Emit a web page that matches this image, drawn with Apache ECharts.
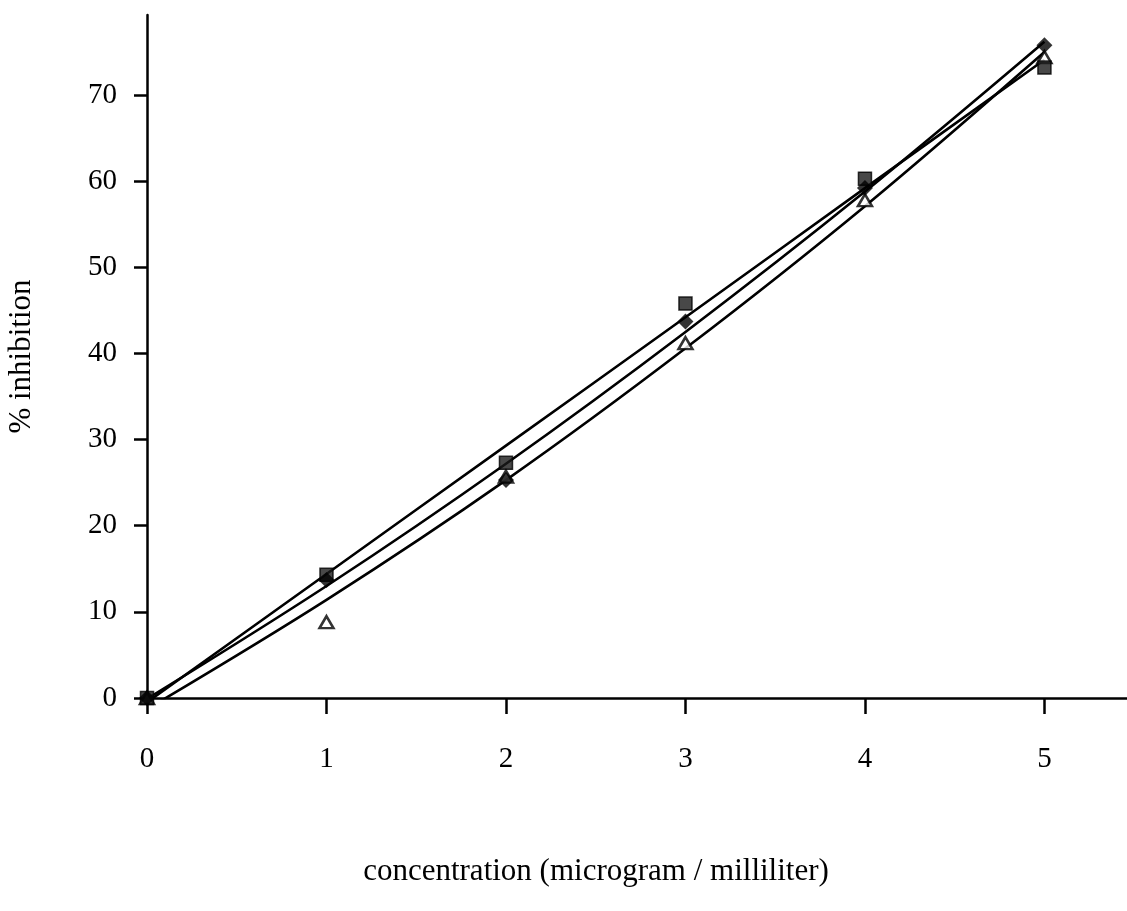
<!DOCTYPE html>
<html>
<head>
<meta charset="utf-8">
<script src="https://cdn.jsdelivr.net/npm/echarts@6/dist/echarts.min.js"></script>
<style>
html,body{margin:0;padding:0;background:#fff;}
#chart{width:1127px;height:911px;}
</style>
</head>
<body>
<div id="chart"></div>
<script>
// Data
const xValues = [0, 1, 2, 3, 4, 5];
const diamondValues = [0, 13.7, 25.3, 43.7, 59.2, 75.8];
const squareValues = [0, 14.3, 27.3, 45.8, 60.3, 73.2];
const triangleValues = [0, 8.8, 25.7, 41.2, 57.8, 74.4];
// trend lines (polynomial) read at each concentration
const diamondTrend = [-0.1, 13.0, 27.2, 42.5, 58.8, 76.2];
const squareTrend = [-0.5, 14.4, 29.3, 44.2, 59.2, 74.1];
const triangleTrend = [-1.3, 11.4, 25.3, 40.6, 57.1, 75.0];
const xTicks = [0, 1, 2, 3, 4, 5];
const yTicks = [0, 10, 20, 30, 40, 50, 60, 70];
const xTitle = 'concentration (microgram / milliliter)';
const yTitle = '% inhibition';

const pairs = (ys) => xValues.map((x, i) => [x, ys[i]]);
const FONT = 'Liberation Serif';

const chart = echarts.init(document.getElementById('chart'), null, {renderer: 'canvas'});
const lineSeries = (ys) => ({
  type: 'line', data: pairs(ys), smooth: 0.35, showSymbol: false, clip: true,
  lineStyle: {color: '#000', width: 2.6}, silent: true, z: 2
});
chart.setOption({
  animation: false,
  backgroundColor: '#fff',
  grid: {left: 147, right: 0, top: 15, bottom: 213, outerBoundsMode: 'none', containLabel: false},
  xAxis: {
    type: 'value', min: 0, max: 5.46,
    axisLine: {lineStyle: {color: '#000', width: 2.5}},
    axisTick: {customValues: xTicks, length: 16, lineStyle: {color: '#000', width: 2.5}},
    axisLabel: {customValues: xTicks, margin: 47, fontSize: 29, fontFamily: FONT, color: '#000'},
    splitLine: {show: false}
  },
  yAxis: {
    type: 'value', min: 0, max: 79.3,
    name: yTitle, nameLocation: 'middle', nameGap: 110, nameRotate: 90,
    nameTextStyle: {fontSize: 31, fontFamily: FONT, color: '#000'},
    axisLine: {lineStyle: {color: '#000', width: 2.5}},
    axisTick: {customValues: yTicks, length: 13, lineStyle: {color: '#000', width: 2.5}},
    axisLabel: {customValues: yTicks, margin: 30, fontSize: 29, fontFamily: FONT, color: '#000'},
    splitLine: {show: false}
  },
  graphic: [{
    type: 'text', x: 596, y: 872,
    style: {text: xTitle, font: '31px "Liberation Serif"', fill: '#000',
            textAlign: 'center', textVerticalAlign: 'middle'}
  }],
  series: [
    lineSeries(squareTrend),
    lineSeries(diamondTrend),
    lineSeries(triangleTrend),
    {type: 'scatter', data: pairs(triangleValues), symbol: 'triangle', symbolSize: [14, 12],
     itemStyle: {color: '#fff', borderColor: '#000', borderWidth: 2.5}, z: 3},
    {type: 'scatter', data: pairs(squareValues), symbol: 'rect', symbolSize: 13,
     itemStyle: {color: '#1a1a1a', borderColor: '#000', borderWidth: 1.5}, z: 4},
    {type: 'scatter', data: pairs(diamondValues), symbol: 'diamond', symbolSize: 16,
     itemStyle: {color: '#000'}, z: 5}
  ]
});
</script>
</body>
</html>
